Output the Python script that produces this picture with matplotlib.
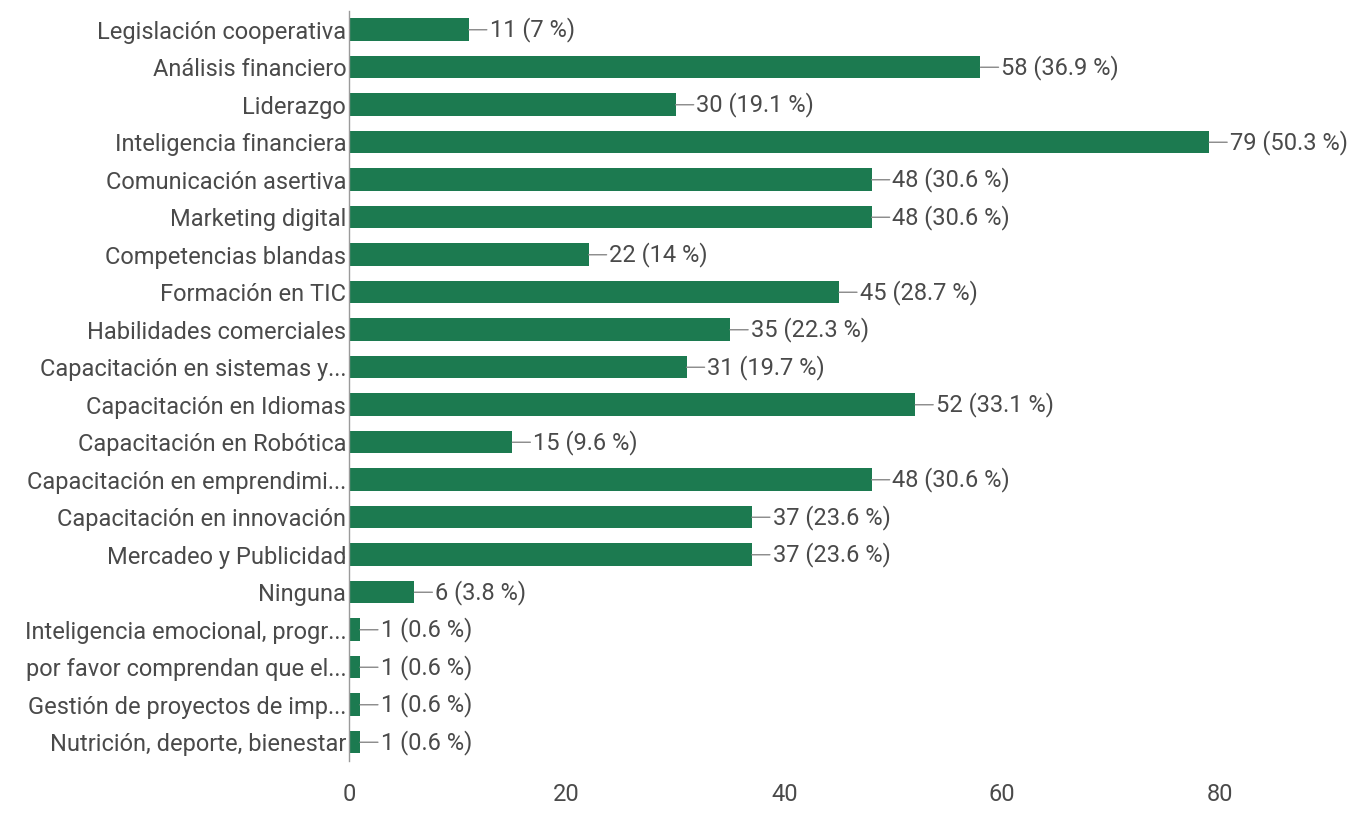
import matplotlib
matplotlib.use("Agg")
import matplotlib.pyplot as plt

categories = [
    "Legislación cooperativa", "Análisis financiero", "Liderazgo",
    "Inteligencia financiera", "Comunicación asertiva", "Marketing digital",
    "Competencias blandas", "Formación en TIC", "Habilidades comerciales",
    "Capacitación en sistemas y...", "Capacitación en Idiomas",
    "Capacitación en Robótica", "Capacitación en emprendimi...",
    "Capacitación en innovación", "Mercadeo y Publicidad", "Ninguna",
    "Inteligencia emocional, progr...", "por favor comprendan que el...",
    "Gestión de proyectos de imp...", "Nutrición, deporte, bienestar",
]
counts = [11, 58, 30, 79, 48, 48, 22, 45, 35, 31, 52, 15, 48, 37, 37, 6, 1, 1, 1, 1]
percents = ["7", "36.9", "19.1", "50.3", "30.6", "30.6", "14", "28.7", "22.3",
            "19.7", "33.1", "9.6", "30.6", "23.6", "23.6", "3.8", "0.6", "0.6",
            "0.6", "0.6"]
xticks = [0, 20, 40, 60, 80]

plt.rcParams['font.family'] = ['Roboto', 'DejaVu Sans']
text_color = '#4a4a4a'
bar_color = '#1c7a50'
fs = 17

fig = plt.figure(figsize=(13.69, 8.19), dpi=100)
ax = fig.add_axes([349/1369, 58/819, (1220-349)/1369, (808-58)/819])

ypos = list(range(len(categories)))
ax.barh(ypos, counts, height=0.6, color=bar_color)
ax.set_ylim(len(categories) - 0.5, -0.5)
ax.set_xlim(0, 80)
ax.set_yticks(ypos)
ax.set_yticklabels(categories, fontsize=fs, color=text_color)
ax.set_xticks(xticks)
ax.set_xticklabels([str(t) for t in xticks], fontsize=fs, color=text_color)
ax.tick_params(axis='both', length=0)
ax.tick_params(axis='y', pad=2)
ax.tick_params(axis='x', pad=16)
for s in ['top', 'right', 'bottom']:
    ax.spines[s].set_visible(False)
ax.spines['left'].set_color('#9a9a9a')
ax.spines['left'].set_linewidth(1)

for y, c, p in zip(ypos, counts, percents):
    ax.annotate(f"{c} ({p} %)", xy=(c, y), xytext=(15, 0), textcoords='offset points',
                ha='left', va='center', fontsize=fs, color=text_color,
                arrowprops=dict(arrowstyle='-', color='#888888', lw=1,
                                shrinkA=0, shrinkB=0), annotation_clip=False)

fig.savefig("out.png", dpi=100, facecolor='white')
